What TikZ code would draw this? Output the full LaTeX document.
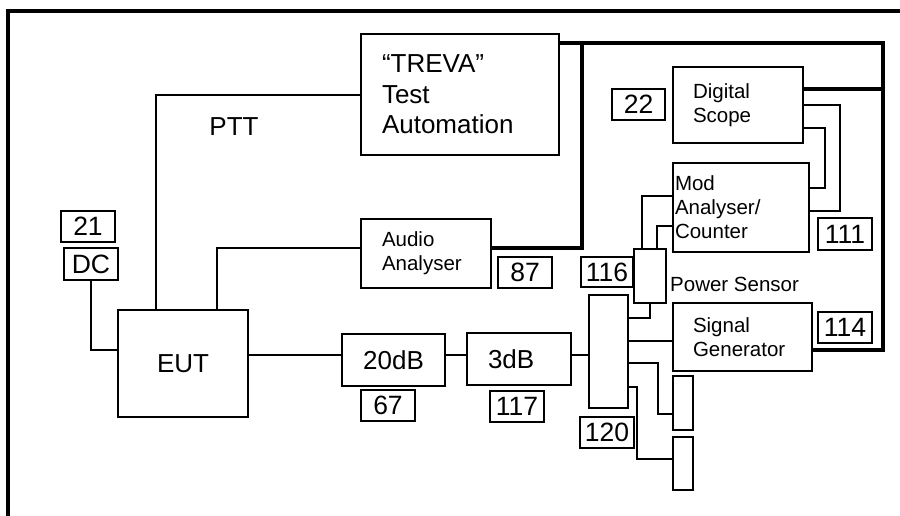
\documentclass[tikz,border=0pt]{standalone}
\usepackage{fontspec}
\setmainfont{Liberation Sans}
\newcommand\bigf{\fontsize{26}{30.5}\selectfont}
\newcommand\smallf{\fontsize{20.5}{24}\selectfont}
\newcommand\numf{\fontsize{26.5}{30}\selectfont}
\tikzset{
  box/.style={draw, line width=1.6pt, rectangle, inner sep=0pt},
  numbox/.style={box, font=\numf, minimum width=54pt, minimum height=31pt},
  wire/.style={line width=1.6pt},
  bus/.style={line width=4.8pt},
  frameline/.style={line width=3.8pt},
}
\begin{document}
\begin{tikzpicture}[x=1pt,y=-1pt]
\useasboundingbox (0,0) rectangle (900,516);
% outer frame
\draw[frameline] (8,516) -- (8,11) -- (900,11);

% main boxes
\node[box, font=\bigf, minimum width=198pt, minimum height=121pt, align=left, inner xsep=21pt, text width=156pt] (treva) at (460,94.5) {“TREVA”\\Test\\Automation};
\node[box, font=\smallf, minimum width=130pt, minimum height=69pt, align=left, inner xsep=21pt, text width=88pt] (audio) at (426,253.5) {Audio\\Analyser};
\node[box, font=\smallf, minimum width=130pt, minimum height=76pt, align=left, inner xsep=20pt, text width=90pt] (scope) at (738,105) {Digital\\Scope};
\node[box, font=\smallf, minimum width=136pt, minimum height=89pt, align=left, inner xsep=2pt, text width=132pt] (mod) at (741,207.5) {Mod\\Analyser/\\Counter};
\node[box, font=\smallf, minimum width=139pt, minimum height=68pt, align=left, inner xsep=20pt, text width=99pt] (siggen) at (742.5,337) {Signal\\Generator};
\node[box, font=\bigf, minimum width=130pt, minimum height=107pt] (eut) at (183,363.5) {EUT};
\node[box, font=\bigf, minimum width=103pt, minimum height=52pt] (att20) at (393.5,360) {20dB};
\node[box, font=\bigf, minimum width=104pt, minimum height=52pt, align=left, inner xsep=21pt, text width=62pt] (att3) at (519,359) {3dB};
\node[box, minimum width=39pt, minimum height=113pt] (split) at (608.5,351.5) {};
\node[box, minimum width=32pt, minimum height=54pt] (sensor) at (650,276) {};
\node[box, minimum width=20pt, minimum height=54pt] (load1) at (683,403) {};
\node[box, minimum width=20pt, minimum height=53pt] (load2) at (683,463.5) {};

% number boxes
\node[numbox] (n21) at (88,226.5) {21};
\node[numbox, minimum height=32pt] (dc) at (91,264) {DC};
\node[numbox, minimum width=53pt] (n22) at (638.5,104.5) {22};
\node[numbox, minimum height=32pt] (n111) at (845,234) {111};
\node[numbox] (n87) at (525,272.5) {87};
\node[numbox, minimum width=52pt, minimum height=30pt] (n116) at (607,272) {116};
\node[numbox] (n114) at (845,327.5) {114};
\node[numbox] (n67) at (388,405.5) {67};
\node[numbox] (n117) at (517,406.5) {117};
\node[numbox] (n120) at (607,432.5) {120};

% free labels
\node[font=\bigf] (ptt) at (234,127) {PTT};
\node[font=\smallf, anchor=west, inner sep=0pt] (pslabel) at (670,284) {Power Sensor};

% thin connectors
\draw[wire] (eut.north -| 156,0) |- (treva.west |- 0,95);
\draw[wire] (eut.north -| 217,0) |- (audio.west |- 0,248);
\draw[wire] (dc.south) |- (eut.west |- 0,350);
\draw[wire] (eut.east |- 0,355) -- (att20.west |- 0,355);
\draw[wire] (att20.east |- 0,355) -- (att3.west |- 0,355);
\draw[wire] (att3.east |- 0,355) -- (split.west |- 0,355);
\draw[wire] (split.east |- 0,318) -| (sensor.south);
\draw[wire] (split.east |- 0,341) -- (siggen.west |- 0,341);
\draw[wire] (split.east |- 0,363) -- (658,363) -- (658,414) -- (load1.west |- 0,414);
\draw[wire] (split.east |- 0,387) -- (637,387) -- (637,459) -- (load2.west |- 0,459);
\draw[wire] (sensor.north -| 642,0) |- (mod.west |- 0,196);
\draw[wire] (sensor.north -| 657,0) |- (mod.west |- 0,226);
\draw[wire] (scope.east |- 0,105) -- (840,105) -- (840,211) -- (mod.east |- 0,211);
\draw[wire] (scope.east |- 0,128) -- (825,128) -- (825,188) -- (mod.east |- 0,188);

% thick bus
\draw[bus] (treva.east |- 0,43) -- (883,43) -- (883,350) -- (siggen.east |- 0,350);
\draw[bus] (582,43) -- (582,248) -- (audio.east |- 0,248);
\draw[bus] (scope.east |- 0,89) -- (883,89);
\end{tikzpicture}
\end{document}
